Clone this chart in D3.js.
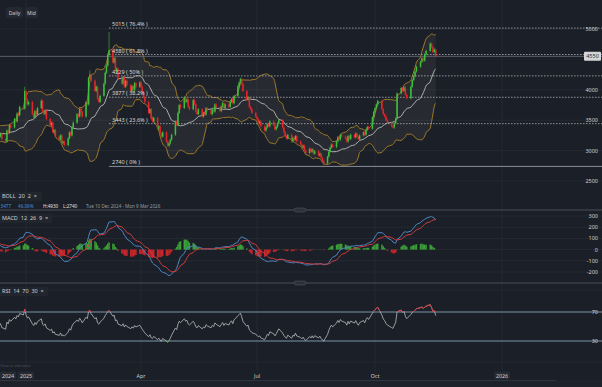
<!DOCTYPE html>
<html>
<head>
<meta charset="utf-8">
<script src="https://cdn.jsdelivr.net/npm/d3@7"></script>
<style>
  body { margin: 0; background: #1b1f27; }
  svg { display: block; font-family: "Noto Sans", Roboto, sans-serif; }
</style>
</head>
<body>
<div id="chart"></div>
<script>
// daily closes, one array per month (warmup = the weeks before the visible range)
const warmup = [3050, 3100, 3020, 3080, 3150, 3110, 3190, 3140, 3220, 3180, 3260, 3200, 3150,
  3230, 3290, 3250, 3330, 3280, 3360, 3420, 3380, 3300, 3350, 3260, 3310, 3240];
const dec24 = [3300, 3230, 3280, 3190, 3150, 3330, 3290, 3420, 3380, 3520, 3480, 3610, 3580, 3720, 3690, 3980];
const jan25 = [3850, 3760, 3800, 3600, 3540, 3650, 3590, 3700, 3820, 3640, 3600, 3660, 3520, 3420, 3460,
  3300, 3340, 3230, 3180, 3250, 3120, 3150, 3090];
const feb25 = [3200, 3300, 3250, 3380, 3460, 3600, 3560, 3690, 3640, 3560, 3800, 3760, 4200, 4250, 4150,
  3980, 4050, 3850, 3800, 3900];
const mar25 = [4100, 4280, 4400, 4580, 4650, 4450, 4520, 4300, 4350, 4180, 4100, 4200, 4050, 4150, 4080,
  3980, 4060, 4000, 4110, 4050, 4120];
const apr25 = [4050, 3960, 3880, 3800, 3620, 3680, 3520, 3480, 3540, 3360, 3400, 3280, 3230, 3300, 3150,
  3080, 3120, 3180, 3260, 3480, 3420, 3620];
const may25 = [3750, 3700, 3880, 3800, 3840, 3720, 3680, 3830, 3760, 3640, 3600, 3680, 3560, 3620, 3590,
  3700, 3660, 3600, 3680, 3640, 3760, 3720];
const jun25 = [3650, 3720, 3780, 3700, 3760, 3720, 3800, 3850, 3780, 3900, 4060, 4120, 4180, 4100, 3980,
  3840, 3880, 3720, 3680, 3620, 3560];
const jul25 = [3520, 3460, 3480, 3400, 3330, 3380, 3440, 3400, 3480, 3420, 3350, 3390, 3450, 3500, 3380,
  3300, 3240, 3200, 3260, 3150, 3210, 3180, 3240];
const aug25 = [3150, 3100, 3050, 3080, 3000, 2960, 3030, 2980, 3020, 2950, 2990, 2920, 2950, 2880, 2830,
  2790, 2900, 2980, 3050, 3100, 3060];
const sep25 = [3150, 3220, 3180, 3260, 3230, 3200, 3150, 3240, 3190, 3260, 3220, 3280, 3230, 3190, 3250,
  3300, 3260, 3340, 3390, 3360, 3550, 3640];
const oct25 = [3700, 3760, 3820, 3680, 3600, 3560, 3500, 3460, 3400, 3380, 3450, 3530, 3940, 4030, 3980,
  4040, 3920, 3860, 4050, 4160, 4220, 4300, 4380];
const nov25 = [4460, 4520, 4480, 4580, 4640, 4760, 4700, 4620, 4660, 4550];

// wick extremes that stick out
const extremes = [
  { date: '2025-03-07', high: 4930 },
  { date: '2025-08-22', low: 2740 },
  { date: '2024-12-31', high: 4030 },
  { date: '2025-02-20', high: 4300 }
];

const fibLevels = [5015, 4580, 4229, 3877, 3443, 2740];
const fibLabels = ['5015 ( 76.4% )', '4580 ( 61.8% )', '4229 ( 50% )', '3877 ( 38.2% )', '3443 ( 23.6% )', '2740 ( 0% )'];
const fibStart = '2025-03-07';
const lastPrice = 4550;
const priceTicks = [5000, 4000, 3500, 3000, 2500];
const macdTicks = [300, 200, 100, 0, -100, -200];
const rsiLevels = [70, 30];
const timeTicks = [
  { label: '2024', date: '2024-12-16', box: true, grid: false },
  { label: '2025', date: '2025-01-01', box: true, grid: true },
  { label: 'Apr', date: '2025-04-01', box: false, grid: true },
  { label: 'Jul', date: '2025-07-01', box: false, grid: true },
  { label: 'Oct', date: '2025-10-01', box: false, grid: true },
  { label: '2026', date: '2026-01-01', box: true, grid: true }
];

const W = 602, H = 387;
const pd = d3.utcParse('%Y-%m-%d');

const closes = [].concat(warmup, dec24, jan25, feb25, mar25, apr25, may25, jun25, jul25, aug25, sep25, oct25, nov25);
const days = d3.utcDay.range(pd('2024-11-04'), pd('2025-12-31'))
  .filter(d => d.getUTCDay() % 6 !== 0)
  .slice(0, closes.length);

const data = closes.map((c, i) => {
  const o = i ? closes[i - 1] : c;
  return { date: days[i], open: o, close: c, high: Math.max(o, c), low: Math.min(o, c) };
});
extremes.forEach(e => {
  const d = data.find(r => +r.date === +pd(e.date));
  if (d && e.high) d.high = e.high;
  if (d && e.low) d.low = e.low;
});

// indicators
function ema(arr, n) {
  const k = 2 / (n + 1);
  let prev = arr[0];
  return arr.map((v, i) => (prev = i ? v * k + prev * (1 - k) : v));
}
data.forEach((d, i) => {
  if (i < 19) return;
  const win = closes.slice(i - 19, i + 1);
  const m = d3.mean(win);
  const sd = Math.sqrt(d3.mean(win, v => (v - m) * (v - m)));
  d.mid = m; d.up = m + 2 * sd; d.lo = m - 2 * sd;
});
const e12 = ema(closes, 12), e26 = ema(closes, 26);
const macd = closes.map((c, i) => e12[i] - e26[i]);
const signal = ema(macd, 9);
data.forEach((d, i) => { d.macd = macd[i]; d.signal = signal[i]; d.hist = macd[i] - signal[i]; });
let ag = 0, al = 0;
data.forEach((d, i) => {
  if (i === 0) return;
  const ch = closes[i] - closes[i - 1];
  const g = Math.max(ch, 0), l = Math.max(-ch, 0);
  if (i <= 14) { ag += g / 14; al += l / 14; }
  else { ag = (ag * 13 + g) / 14; al = (al * 13 + l) / 14; }
  if (i >= 14) d.rsi = 100 - 100 / (1 + ag / al);
});

// scales
const x = d3.scaleUtc()
  .domain(['2024-12-10', '2025-01-01', '2025-04-01', '2025-07-01', '2025-10-01', '2026-01-01', '2026-03-09'].map(pd))
  .range([-2, 26, 141, 257, 375, 502, 590]);
const y = d3.scaleLinear().domain([2500, 5000]).range([181, 29]);
const ym = d3.scaleLinear().domain([-200, 300]).range([272, 216]);
const yr = d3.scaleLinear().domain([30, 70]).range([341, 312]);

const svg = d3.select('#chart').append('svg').attr('width', W).attr('height', H);
svg.append('rect').attr('width', W).attr('height', H).attr('fill', '#1b1f27');

const defs = svg.append('defs');
defs.append('clipPath').attr('id', 'cMain').append('rect').attr('x', 0).attr('y', 0).attr('width', W).attr('height', 209);
defs.append('clipPath').attr('id', 'cMacd').append('rect').attr('x', 0).attr('y', 211).attr('width', W).attr('height', 71);
defs.append('clipPath').attr('id', 'cHi').append('rect').attr('x', 0).attr('y', 284).attr('width', W).attr('height', yr(70) - 284);
defs.append('clipPath').attr('id', 'cLo').append('rect').attr('x', 0).attr('y', yr(30)).attr('width', W).attr('height', 362 - yr(30));

const grid = '#252a33';

// vertical grid
svg.append('g').selectAll('line').data(timeTicks.filter(t => t.grid)).join('line')
  .attr('x1', d => x(pd(d.date))).attr('x2', d => x(pd(d.date)))
  .attr('y1', 0).attr('y2', 370)
  .attr('stroke', grid).attr('stroke-width', 1);

// horizontal grid
svg.append('g').selectAll('line').data(priceTicks).join('line')
  .attr('x1', 0).attr('x2', W).attr('y1', d => y(d)).attr('y2', d => y(d))
  .attr('stroke', grid);
svg.append('g').selectAll('line').data(macdTicks).join('line')
  .attr('x1', 0).attr('x2', W).attr('y1', d => ym(d)).attr('y2', d => ym(d))
  .attr('stroke', grid);
[290, 362].forEach(v => svg.append('line').attr('x1', 0).attr('x2', W).attr('y1', v).attr('y2', v).attr('stroke', grid));

// ---- main pane
const main = svg.append('g').attr('clip-path', 'url(#cMain)');
const bbData = data.filter(d => d.mid !== undefined);

main.append('path').datum(bbData)
  .attr('d', d3.area().x(d => x(d.date)).y0(d => y(d.lo)).y1(d => y(d.up)).curve(d3.curveMonotoneX))
  .attr('fill', 'rgba(190,180,160,0.08)');
['up', 'lo'].forEach(k => main.append('path').datum(bbData)
  .attr('d', d3.line().x(d => x(d.date)).y(d => y(d[k])).curve(d3.curveMonotoneX))
  .attr('fill', 'none').attr('stroke', '#a07a2a').attr('stroke-width', 1));
main.append('path').datum(bbData)
  .attr('d', d3.line().x(d => x(d.date)).y(d => y(d.mid)).curve(d3.curveMonotoneX))
  .attr('fill', 'none').attr('stroke', '#bfbfbf').attr('stroke-width', 0.9);

// fib levels
const fx = x(pd(fibStart));
main.append('g').selectAll('line').data(fibLevels).join('line')
  .attr('x1', fx).attr('x2', W).attr('y1', d => y(d)).attr('y2', d => y(d))
  .attr('stroke', (d, i) => i === fibLevels.length - 1 ? '#8a8e96' : '#b4b6ba')
  .attr('stroke-width', (d, i) => i === fibLevels.length - 1 ? 1 : 0.8)
  .attr('stroke-dasharray', (d, i) => i === fibLevels.length - 1 ? null : '1.5,1.5');

// last price line
main.append('line').attr('x1', 0).attr('x2', W).attr('y1', y(lastPrice)).attr('y2', y(lastPrice))
  .attr('stroke', '#6b6f78').attr('stroke-width', 0.8);

// candles
const vis = data.filter(d => d.date >= pd('2024-12-10'));
const cg = main.append('g');
cg.selectAll('line').data(vis).join('line')
  .attr('x1', d => x(d.date)).attr('x2', d => x(d.date))
  .attr('y1', d => y(d.high) - 1.2).attr('y2', d => y(d.low) + 1.2)
  .attr('stroke', d => d.close >= d.open ? '#3fbf3a' : '#e3262b').attr('stroke-width', 0.6);
cg.selectAll('rect').data(vis).join('rect')
  .attr('x', d => x(d.date) - 0.75).attr('width', 1.5)
  .attr('y', d => y(Math.max(d.open, d.close)))
  .attr('height', d => Math.max(0.7, Math.abs(y(d.open) - y(d.close))))
  .attr('fill', d => d.close >= d.open ? '#3fbf3a' : '#e3262b');

// fib labels
main.append('g').selectAll('text').data(fibLevels).join('text')
  .attr('x', fx + 3).attr('y', d => y(d) - 2)
  .attr('font-size', 5.5).attr('fill', '#d8d8d8')
  .text((d, i) => fibLabels[i]);

// price axis
svg.append('g').selectAll('text').data(priceTicks).join('text')
  .attr('x', 598).attr('y', d => y(d) + 2)
  .attr('text-anchor', 'end').attr('font-size', 5.5).attr('fill', '#cfcfcf')
  .text(d => d);
svg.append('rect').attr('x', 584).attr('y', y(lastPrice) - 4.5).attr('width', 17).attr('height', 9)
  .attr('rx', 1).attr('fill', '#d6d6d6');
svg.append('text').attr('x', 592.5).attr('y', y(lastPrice) + 2).attr('text-anchor', 'middle')
  .attr('font-size', 5.5).attr('fill', '#2a2d33').text(lastPrice);

// top buttons
[['Daily', 6, 17], ['Mid', 25, 13]].forEach(([t, bx, bw]) => {
  svg.append('rect').attr('x', bx).attr('y', 7).attr('width', bw).attr('height', 11).attr('rx', 1.5).attr('fill', '#232832');
  svg.append('text').attr('x', bx + bw / 2).attr('y', 14.5).attr('text-anchor', 'middle')
    .attr('font-size', 5).attr('fill', '#cfcfcf').text(t);
});

// legends
function tag(txt, tx, ty, w) {
  svg.append('rect').attr('x', 0).attr('y', ty - 6).attr('width', w).attr('height', 9).attr('fill', '#20252e');
  svg.append('text').attr('x', tx).attr('y', ty).attr('font-size', 5.5).attr('fill', '#d0d0d0')
    .attr('xml:space', 'preserve').text(txt);
}
tag('BOLL  20  2  ×', 2, 198, 42);
[['3477', 0.5, '#4a8fd8'], ['46.06%', 18, '#4a8fd8'], ['H:4930', 43, '#e0e0e0'], ['L:2740', 63, '#e0e0e0'],
 ['Tue 10 Dec 2024 - Mon 9 Mar 2026', 86, '#9a9da3']].forEach(([t, tx, c]) =>
  svg.append('text').attr('x', tx).attr('y', 207.5).attr('font-size', 4.6).attr('fill', c).text(t));

// pane separators
[210, 283].forEach(v => {
  svg.append('line').attr('x1', 0).attr('x2', W).attr('y1', v).attr('y2', v).attr('stroke', '#3a3f49').attr('stroke-width', 1.4);
  svg.append('rect').attr('x', 294).attr('y', v - 2).attr('width', 12).attr('height', 4).attr('rx', 2)
    .attr('fill', '#2b3039').attr('stroke', '#5a5f68').attr('stroke-width', 0.5);
});

// ---- MACD pane
const mg = svg.append('g').attr('clip-path', 'url(#cMacd)');
mg.selectAll('rect').data(vis).join('rect')
  .attr('x', d => x(d.date) - 0.75).attr('width', 1.5)
  .attr('y', d => Math.min(ym(0), ym(d.hist)))
  .attr('height', d => Math.abs(ym(d.hist) - ym(0)))
  .attr('fill', d => d.hist >= 0 ? '#3b9e37' : '#c8262b');
mg.append('path').datum(vis)
  .attr('d', d3.line().x(d => x(d.date)).y(d => ym(d.macd)))
  .attr('fill', 'none').attr('stroke', '#4d87c4').attr('stroke-width', 1);
mg.append('path').datum(vis)
  .attr('d', d3.line().x(d => x(d.date)).y(d => ym(d.signal)))
  .attr('fill', 'none').attr('stroke', '#cf3a3e').attr('stroke-width', 1);
svg.append('g').selectAll('text').data(macdTicks).join('text')
  .attr('x', 598).attr('y', d => ym(d) + 2)
  .attr('text-anchor', 'end').attr('font-size', 5.5).attr('fill', '#cfcfcf')
  .text(d => d);
tag('MACD  12  26  9  ×', 2, 220, 52);

// ---- RSI pane
svg.append('g').selectAll('line').data(rsiLevels).join('line')
  .attr('x1', 0).attr('x2', W).attr('y1', d => yr(d)).attr('y2', d => yr(d))
  .attr('stroke', '#7f95a8').attr('stroke-width', 1);
const rsiLine = d3.line().x(d => x(d.date)).y(d => yr(d.rsi));
svg.append('path').datum(vis).attr('d', rsiLine)
  .attr('fill', 'none').attr('stroke', '#b9bcc2').attr('stroke-width', 0.8);
svg.append('path').datum(vis).attr('d', rsiLine).attr('clip-path', 'url(#cHi)')
  .attr('fill', 'none').attr('stroke', '#d9363a').attr('stroke-width', 0.9);
svg.append('path').datum(vis).attr('d', rsiLine).attr('clip-path', 'url(#cLo)')
  .attr('fill', 'none').attr('stroke', '#3fb03a').attr('stroke-width', 0.9);
svg.append('g').selectAll('text').data(rsiLevels).join('text')
  .attr('x', 598).attr('y', d => yr(d) + 2)
  .attr('text-anchor', 'end').attr('font-size', 5.5).attr('fill', '#cfcfcf')
  .text(d => d);
tag('RSI  14  70  30  ×', 2, 293, 48);

// ---- time axis
svg.append('text').attr('x', 0.5).attr('y', 367).attr('font-size', 3.8).attr('fill', '#4d525b').text('Data is indicative');
const tg = svg.append('g').selectAll('g').data(timeTicks).join('g')
  .attr('transform', d => `translate(${Math.max(8, x(pd(d.date)))},376)`);
tg.filter(d => d.box).append('rect').attr('x', -8).attr('y', -4.5).attr('width', 16).attr('height', 8).attr('rx', 1)
  .attr('fill', '#252a33');
tg.append('text').attr('y', 2).attr('text-anchor', 'middle').attr('font-size', 5.3).attr('fill', '#cfcfcf')
  .text(d => d.label);

// navigator strip
svg.append('rect').attr('x', 0).attr('y', 380).attr('width', W).attr('height', 7).attr('fill', '#1e222a');
svg.append('line').attr('x1', 0).attr('x2', 556).attr('y1', 380.5).attr('y2', 380.5).attr('stroke', '#30353e');
</script>
</body>
</html>
